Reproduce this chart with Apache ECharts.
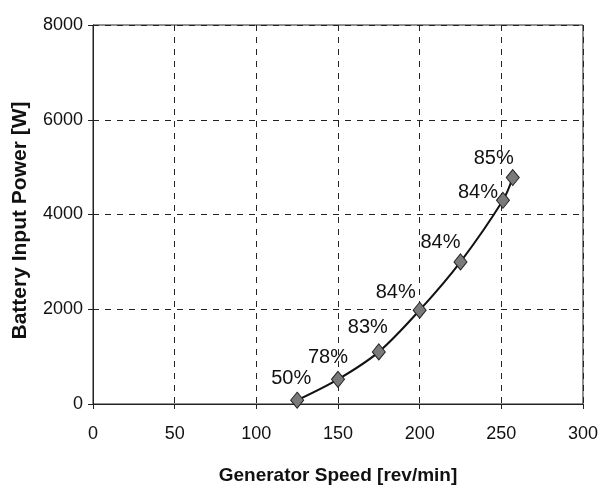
<!DOCTYPE html>
<html>
<head>
<meta charset="utf-8">
<script src="https://cdn.jsdelivr.net/npm/echarts@6/dist/echarts.min.js"></script>
<style>
  html, body { margin: 0; padding: 0; background: #fff; }
  #chart { width: 601px; height: 490px; }
</style>
</head>
<body>
<div id="chart"></div>
<script>
// Generator speed [rev/min]
const speed = [125, 150, 175, 200, 225, 251, 257];
// Battery input power [W]
const power = [80, 520, 1100, 1980, 3000, 4300, 4780];
// Efficiency shown at each point
const efficiency = ['50%', '78%', '83%', '84%', '84%', '84%', '85%'];

const xTicks = [0, 50, 100, 150, 200, 250, 300];
const yTicks = [0, 2000, 4000, 6000, 8000];

// label centre relative to each marker centre (px)
const labelOffsets = [[-6, -22], [-10, -22], [-11, -24], [-24, -18], [-20, -19], [-25, -8], [-19, -19]];

const font = 'Liberation Sans, Arial, sans-serif';

const chart = echarts.init(document.getElementById('chart'), null, { renderer: 'canvas' });

chart.setOption({
  backgroundColor: '#fff',
  animation: false,
  grid: {
    left: 93, right: 18, top: 25, bottom: 86,
    show: true, borderColor: '#222', borderWidth: 1, backgroundColor: 'transparent'
  },
  xAxis: {
    type: 'value',
    min: xTicks[0], max: xTicks[xTicks.length - 1], interval: xTicks[1] - xTicks[0],
    name: 'Generator Speed [rev/min]',
    nameLocation: 'middle', nameGap: 62,
    nameTextStyle: { fontFamily: font, fontSize: 19, fontWeight: 'bold', color: '#111' },
    axisLine: { show: true, lineStyle: { color: '#222', width: 1 } },
    axisTick: { show: true, length: 5, lineStyle: { color: '#222' } },
    axisLabel: { margin: 21, fontFamily: font, fontSize: 18, color: '#111', formatter: v => String(v) },
    splitLine: { show: true, lineStyle: { color: '#222', type: [6, 6], width: 1 } }
  },
  yAxis: {
    type: 'value',
    min: yTicks[0], max: yTicks[yTicks.length - 1], interval: yTicks[1] - yTicks[0],
    name: 'Battery Input Power [W]',
    nameLocation: 'middle', nameGap: 62,
    nameTextStyle: { fontFamily: font, fontSize: 21, fontWeight: 'bold', color: '#111', padding: [0, 12, 0, 0] },
    axisLine: { show: true, lineStyle: { color: '#222', width: 1 } },
    axisTick: { show: true, length: 5, lineStyle: { color: '#222' } },
    axisLabel: { margin: 10, fontFamily: font, fontSize: 18, color: '#111', formatter: v => String(v) },
    splitLine: { show: true, lineStyle: { color: '#222', type: [6, 6], width: 1 } }
  },
  series: [{
    type: 'line',
    smooth: 0.3,
    data: speed.map((s, i) => ({
      value: [s, power[i]],
      label: {
        show: true,
        formatter: efficiency[i],
        position: 'inside',
        offset: labelOffsets[i],
        fontFamily: font, fontSize: 20, color: '#111'
      }
    })),
    lineStyle: { color: '#111', width: 2 },
    symbol: 'diamond',
    symbolSize: [13, 16],
    itemStyle: { color: '#7a7a7a', borderColor: '#222', borderWidth: 1 },
    z: 5
  }]
});
</script>
</body>
</html>
